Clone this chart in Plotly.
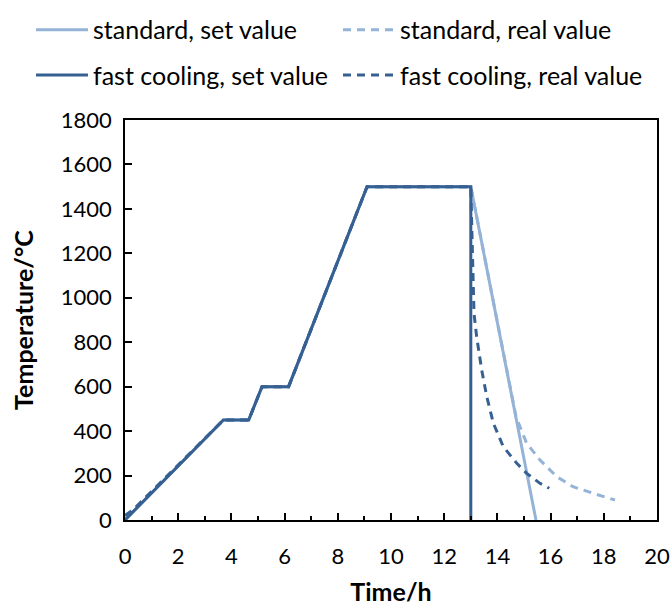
import plotly.graph_objects as go

# --- data ---
std_set_time = [0, 3.7, 4.65, 5.15, 6.15, 9.1, 13.0, 15.45]
std_set_temp = [0, 450, 450, 600, 600, 1500, 1500, 0]

std_real_time = [0, 0.3, 3.7, 4.65, 5.15, 6.15, 9.1, 13.0, 14.0, 14.7, 15.1, 15.6, 16.23, 16.84, 17.6, 18.42]
std_real_temp = [20, 45, 450, 450, 600, 600, 1500, 1500, 890, 465, 345, 270, 195, 150, 120, 90]

fast_set_time = [0, 3.7, 4.65, 5.15, 6.15, 9.1, 13.0, 13.0]
fast_set_temp = [0, 450, 450, 600, 600, 1500, 1500, 0]

fast_real_time = [0, 0.3, 3.7, 4.65, 5.15, 6.15, 9.1, 13.0, 13.03, 13.07, 13.12, 13.22, 13.41, 13.6, 13.85, 14.22, 14.73, 15.1, 15.6, 15.95]
fast_real_temp = [20, 45, 450, 450, 600, 600, 1500, 1500, 1350, 1190, 930, 825, 675, 555, 435, 330, 255, 210, 165, 143]

names = ["standard, set value", "standard, real value",
         "fast cooling, set value", "fast cooling, real value"]

LIGHT = "#95B3D7"
DARK = "#376092"
FONT = "Lato, Carlito, Open Sans, sans-serif"

fig = go.Figure()
fig.add_trace(go.Scatter(x=std_set_time, y=std_set_temp, mode="lines", name=names[0],
                         line=dict(color=LIGHT, width=3), legend="legend", showlegend=True))
fig.add_trace(go.Scatter(x=std_real_time, y=std_real_temp, mode="lines", name=names[1],
                         line=dict(color=LIGHT, width=3, dash="8px,6px"), legend="legend2", showlegend=True))
fig.add_trace(go.Scatter(x=fast_set_time, y=fast_set_temp, mode="lines", name=names[2],
                         line=dict(color=DARK, width=3), legend="legend3", showlegend=True))
fig.add_trace(go.Scatter(x=fast_real_time, y=fast_real_temp, mode="lines", name=names[3],
                         line=dict(color=DARK, width=3, dash="8px,6px"), legend="legend4", showlegend=True))

leg_common = dict(orientation="h", xanchor="left", yanchor="middle",
                  xref="container", yref="container",
                  font=dict(family=FONT, size=25, color="black"), itemwidth=52,
                  bgcolor="rgba(0,0,0,0)", itemclick=False)

fig.update_layout(
    width=672, height=606,
    showlegend=True,
    margin=dict(l=125, r=15, t=120, b=86),
    plot_bgcolor="white", paper_bgcolor="white",
    font=dict(family=FONT, size=22, color="black"),
    legend=dict(leg_common, x=0.0461, y=0.9505),
    legend2=dict(leg_common, x=0.503, y=0.9505),
    legend3=dict(leg_common, x=0.0461, y=0.876),
    legend4=dict(leg_common, x=0.503, y=0.876),
    xaxis=dict(range=[0, 20], dtick=2, tick0=0, ticks="inside", ticklen=7, tickwidth=2,
               tickcolor="black", showline=True, linecolor="black", linewidth=2,
               mirror=True, showgrid=False, zeroline=False, automargin=False,
               ticklabelstandoff=16,
               minor=dict(dtick=1, ticks="inside", ticklen=4, tickwidth=1.5, tickcolor="black"),
               title=dict(text="<b>Time/h</b>", font=dict(family=FONT, size=25), standoff=16),
               tickfont=dict(family=FONT, size=22)),
    yaxis=dict(range=[0, 1800], dtick=200, ticks="inside", ticklen=7, tickwidth=1.5,
               tickcolor="black", showline=True, linecolor="black", linewidth=1.5,
               mirror=True, showgrid=False, zeroline=False, automargin=False,
               ticklabelstandoff=7,
               title=dict(text="<b>Temperature/°C</b>", font=dict(family=FONT, size=25), standoff=20),
               tickfont=dict(family=FONT, size=22)),
)

fig.write_html("out.html", config={"displayModeBar": False},
               post_script="document.body.style.margin='0';")
